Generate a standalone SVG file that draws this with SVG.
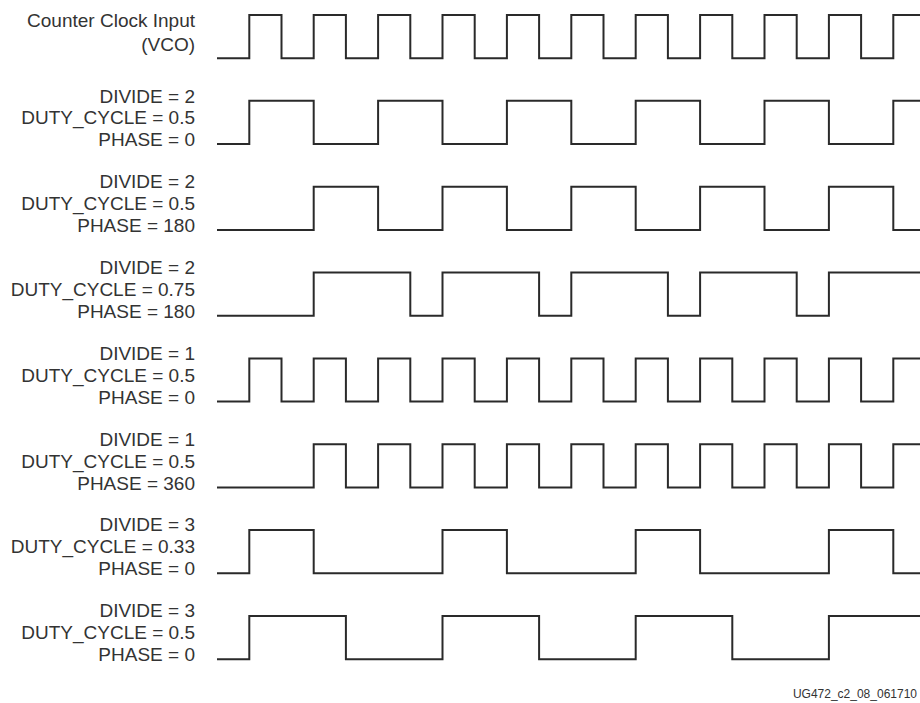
<svg xmlns="http://www.w3.org/2000/svg" width="920" height="703" viewBox="0 0 920 703">
  <style>
    .lbl { font-family: "Liberation Sans", Arial, sans-serif; font-size: 19px; fill: #333; text-anchor: end; }
    .wave { fill: none; stroke: #2a2a2a; stroke-width: 2; stroke-linejoin: miter; stroke-linecap: butt; }
    .note { font-family: "Liberation Sans", Arial, sans-serif; font-size: 12px; fill: #333; text-anchor: end; }
  </style>
  <rect width="920" height="703" fill="#fff"/>

  <g id="row-vco" transform="translate(0,15)">
    <text class="lbl" x="195" y="11.7">Counter Clock Input</text>
    <text class="lbl" x="195" y="35.5">(VCO)</text>
    <path class="wave" d="M217 43.2 H249.3 V0 H281.5 V43.2 H313.7 V0 H345.9 V43.2 H378.1 V0 H410.3 V43.2 H442.5 V0 H474.7 V43.2 H506.9 V0 H539.1 V43.2 H571.3 V0 H603.5 V43.2 H635.7 V0 H667.9 V43.2 H700.1 V0 H732.3 V43.2 H764.5 V0 H796.7 V43.2 H828.9 V0 H861.1 V43.2 H893.3 V0 H920"/>
  </g>

  <g id="row-div2-ph0" transform="translate(0,100.8)">
    <text class="lbl" x="195" y="1.7">DIVIDE = 2</text>
    <text class="lbl" x="195" y="23.6">DUTY_CYCLE = 0.5</text>
    <text class="lbl" x="195" y="45.6">PHASE = 0</text>
    <path class="wave" d="M217 43.2 H249.3 V0 H313.7 V43.2 H378.1 V0 H442.5 V43.2 H506.9 V0 H571.3 V43.2 H635.7 V0 H700.1 V43.2 H764.5 V0 H828.9 V43.2 H893.3 V0 H920"/>
  </g>

  <g id="row-div2-ph180" transform="translate(0,186.7)">
    <text class="lbl" x="195" y="1.7">DIVIDE = 2</text>
    <text class="lbl" x="195" y="23.6">DUTY_CYCLE = 0.5</text>
    <text class="lbl" x="195" y="45.6">PHASE = 180</text>
    <path class="wave" d="M217 43.2 H313.7 V0 H378.1 V43.2 H442.5 V0 H506.9 V43.2 H571.3 V0 H635.7 V43.2 H700.1 V0 H764.5 V43.2 H828.9 V0 H893.3 V43.2 H920"/>
  </g>

  <g id="row-div2-075-ph180" transform="translate(0,272.6)">
    <text class="lbl" x="195" y="1.7">DIVIDE = 2</text>
    <text class="lbl" x="195" y="23.6">DUTY_CYCLE = 0.75</text>
    <text class="lbl" x="195" y="45.6">PHASE = 180</text>
    <path class="wave" d="M217 43.2 H313.7 V0 H410.3 V43.2 H442.5 V0 H539.1 V43.2 H571.3 V0 H667.9 V43.2 H700.1 V0 H796.7 V43.2 H828.9 V0 H920"/>
  </g>

  <g id="row-div1-ph0" transform="translate(0,358.4)">
    <text class="lbl" x="195" y="1.7">DIVIDE = 1</text>
    <text class="lbl" x="195" y="23.6">DUTY_CYCLE = 0.5</text>
    <text class="lbl" x="195" y="45.6">PHASE = 0</text>
    <path class="wave" d="M217 43.2 H249.3 V0 H281.5 V43.2 H313.7 V0 H345.9 V43.2 H378.1 V0 H410.3 V43.2 H442.5 V0 H474.7 V43.2 H506.9 V0 H539.1 V43.2 H571.3 V0 H603.5 V43.2 H635.7 V0 H667.9 V43.2 H700.1 V0 H732.3 V43.2 H764.5 V0 H796.7 V43.2 H828.9 V0 H861.1 V43.2 H893.3 V0 H920"/>
  </g>

  <g id="row-div1-ph360" transform="translate(0,444.3)">
    <text class="lbl" x="195" y="1.7">DIVIDE = 1</text>
    <text class="lbl" x="195" y="23.6">DUTY_CYCLE = 0.5</text>
    <text class="lbl" x="195" y="45.6">PHASE = 360</text>
    <path class="wave" d="M217 43.2 H313.7 V0 H345.9 V43.2 H378.1 V0 H410.3 V43.2 H442.5 V0 H474.7 V43.2 H506.9 V0 H539.1 V43.2 H571.3 V0 H603.5 V43.2 H635.7 V0 H667.9 V43.2 H700.1 V0 H732.3 V43.2 H764.5 V0 H796.7 V43.2 H828.9 V0 H861.1 V43.2 H893.3 V0 H920"/>
  </g>

  <g id="row-div3-033" transform="translate(0,530.1)">
    <text class="lbl" x="195" y="1">DIVIDE = 3</text>
    <text class="lbl" x="195" y="23">DUTY_CYCLE = 0.33</text>
    <text class="lbl" x="195" y="45">PHASE = 0</text>
    <path class="wave" d="M217 43.2 H249.3 V0 H313.7 V43.2 H442.5 V0 H506.9 V43.2 H635.7 V0 H700.1 V43.2 H828.9 V0 H893.3 V43.2 H920"/>
  </g>

  <g id="row-div3-05" transform="translate(0,616)">
    <text class="lbl" x="195" y="1">DIVIDE = 3</text>
    <text class="lbl" x="195" y="23">DUTY_CYCLE = 0.5</text>
    <text class="lbl" x="195" y="45">PHASE = 0</text>
    <path class="wave" d="M217 43.2 H249.3 V0 H345.9 V43.2 H442.5 V0 H539.1 V43.2 H635.7 V0 H732.3 V43.2 H828.9 V0 H920"/>
  </g>

  <g id="connectors"></g>

  <text class="note" x="917" y="698">UG472_c2_08_061710</text>
</svg>
